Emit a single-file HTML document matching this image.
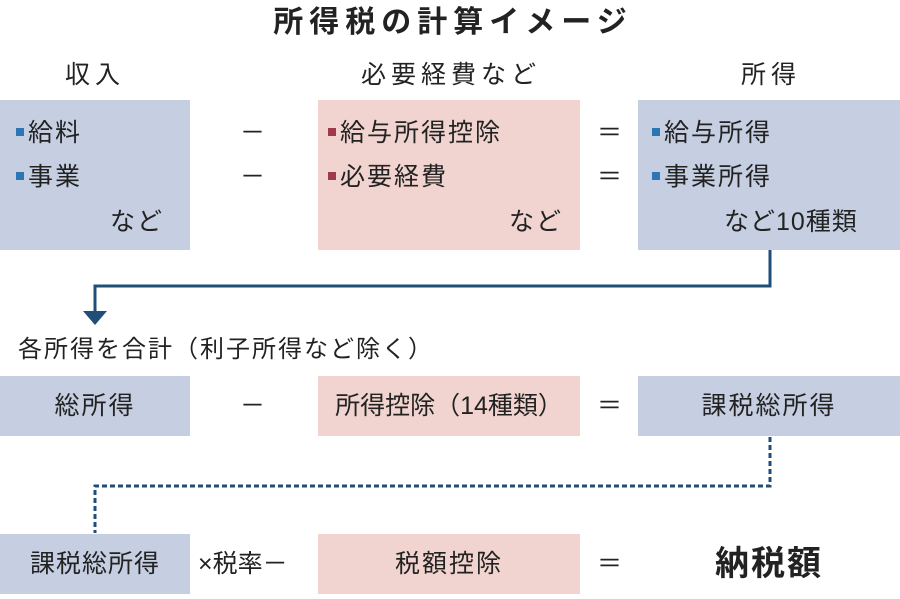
<!DOCTYPE html>
<html><head><meta charset="utf-8"><style>
body{margin:0;width:900px;height:599px;background:#fff;position:relative;overflow:hidden;font-family:"Liberation Sans","Noto Sans CJK JP",sans-serif;color:#222}
.a{position:absolute}
.b{background:#c5cfe1}.p{background:#f1d4cf}
.t{font-size:25px;line-height:26px;white-space:nowrap;letter-spacing:2px}
.c{display:flex;align-items:center;justify-content:center}
.sq{display:inline-block;width:8px;height:8px;margin-right:4px;vertical-align:5px}
</style></head><body>
<div class="a t" style="left:0;width:906px;top:6px;text-align:center;font-weight:bold;font-size:30px;line-height:34px;letter-spacing:6px">所得税の計算イメージ</div>
<div class="a t" style="left:0;width:190px;top:62px;text-align:center;letter-spacing:5px">収入</div>
<div class="a t" style="left:318px;width:266px;top:62px;text-align:center;letter-spacing:5px">必要経費など</div>
<div class="a t" style="left:638px;width:266px;top:62px;text-align:center;letter-spacing:5px">所得</div>

<div class="a b" style="left:0;top:100px;width:190px;height:150px"></div>
<div class="a p" style="left:318px;top:100px;width:262px;height:150px"></div>
<div class="a b" style="left:638px;top:100px;width:262px;height:150px"></div>

<div class="a t" style="left:16px;top:120px"><span class="sq" style="background:#2e75b6"></span>給料</div>
<div class="a t" style="left:16px;top:164px"><span class="sq" style="background:#2e75b6"></span>事業</div>
<div class="a t" style="left:110px;top:209px">など</div>
<div class="a t" style="left:240px;top:120px">－</div>
<div class="a t" style="left:240px;top:164px">－</div>
<div class="a t" style="left:328px;top:120px"><span class="sq" style="background:#9e3a4a"></span>給与所得控除</div>
<div class="a t" style="left:328px;top:164px"><span class="sq" style="background:#9e3a4a"></span>必要経費</div>
<div class="a t" style="left:509px;top:209px">など</div>
<div class="a t" style="left:597px;top:120px">＝</div>
<div class="a t" style="left:597px;top:164px">＝</div>
<div class="a t" style="left:652px;top:120px"><span class="sq" style="background:#2e75b6"></span>給与所得</div>
<div class="a t" style="left:652px;top:164px"><span class="sq" style="background:#2e75b6"></span>事業所得</div>
<div class="a t" style="left:724px;top:209px;letter-spacing:1px">など10種類</div>

<svg class="a" style="left:0;top:0" width="900" height="599">
<polyline points="770,250 770,286 95,286 95,312" fill="none" stroke="#1f4e79" stroke-width="3"/>
<polygon points="83,311 107,311 95,325" fill="#1f4e79"/>
<polyline points="770,437 770,486 95,486 95,533" fill="none" stroke="#1f4e79" stroke-width="3" stroke-dasharray="5,3"/>
</svg>

<div class="a t" style="left:18px;top:337px;font-size:24px;letter-spacing:2px">各所得を合計（利子所得など除く）</div>

<div class="a b c t" style="left:0;top:376px;width:190px;height:60px">総所得</div>
<div class="a t" style="left:240px;top:393px">－</div>
<div class="a p c t" style="left:318px;top:376px;width:262px;height:60px;letter-spacing:0">所得控除（14種類）</div>
<div class="a t" style="left:597px;top:393px">＝</div>
<div class="a b c t" style="left:638px;top:376px;width:262px;height:60px">課税総所得</div>

<div class="a b c t" style="left:0;top:534px;width:190px;height:60px;letter-spacing:1px">課税総所得</div>
<div class="a t" style="left:198px;top:551px;letter-spacing:0">×税率－</div>
<div class="a p c t" style="left:318px;top:534px;width:262px;height:60px">税額控除</div>
<div class="a t" style="left:597px;top:551px">＝</div>
<div class="a c t" style="left:638px;top:534px;width:262px;height:60px;font-weight:bold;font-size:34px;line-height:36px">納税額</div>
</body></html>
